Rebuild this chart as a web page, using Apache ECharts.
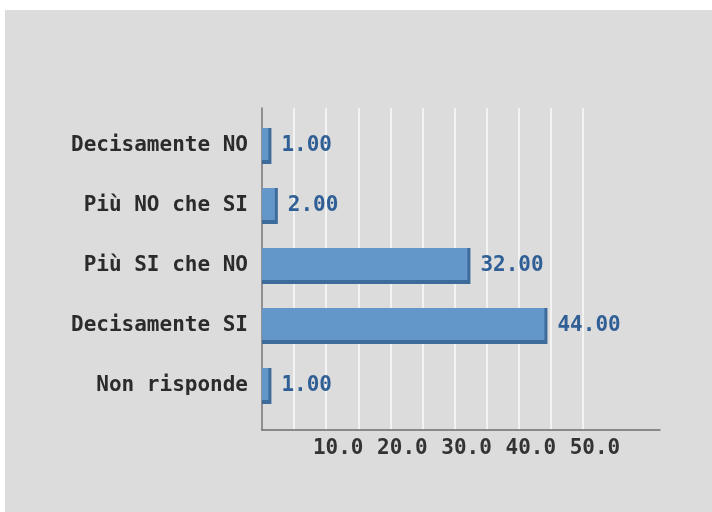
<!DOCTYPE html>
<html>
<head>
<meta charset="utf-8">
<script src="https://cdn.jsdelivr.net/npm/echarts@6/dist/echarts.min.js"></script>
<style>
html,body{margin:0;padding:0;background:#ffffff;}
#main{position:absolute;left:5px;top:10px;width:707px;height:502px;}
</style>
</head>
<body>
<div id="main"></div>
<script>
const categories = ['Decisamente NO', 'Più NO che SI', 'Più SI che NO', 'Decisamente SI', 'Non risponde'];
const values = [1.00, 2.00, 32.00, 44.00, 1.00];
const xTickValues = [10, 20, 30, 40, 50];
const xTickLabels = ['10.0', '20.0', '30.0', '40.0', '50.0'];

const FONT = 'DejaVu Sans Mono';
const chart = echarts.init(document.getElementById('main'), null, {renderer: 'canvas'});

const barFill = new echarts.graphic.LinearGradient(0, 0, 0, 1, [
  {offset: 0, color: '#6598ca'},
  {offset: 0.05, color: '#6497c9'},
  {offset: 0.885, color: '#6497c9'},
  {offset: 0.89, color: '#3d6b9b'},
  {offset: 1, color: '#3d6b9b'}
]);

const option = {
  backgroundColor: '#dcdcdc',
  animation: false,
  grid: [
    {left: 257, top: 98, width: 398, height: 322, show: false},
    {left: 257, top: 98, width: 321, height: 322, show: false},
    {left: 257, top: 106, width: 398, height: 300, show: false}
  ],
  xAxis: [
    {
      gridIndex: 0, type: 'value', min: 0, max: 62, interval: 5,
      axisLine: {show: true, lineStyle: {color: '#6e6e6e', width: 1.5}},
      axisTick: {show: false},
      splitLine: {show: false},
      axisLabel: {
        show: true, margin: 8, padding: [0, 0, 0, 24],
        fontFamily: FONT, fontWeight: 'bold', fontSize: 21, color: '#333333',
        formatter: function (v) {
          const i = xTickValues.indexOf(v);
          return i >= 0 ? xTickLabels[i] : '';
        }
      }
    },
    {
      gridIndex: 1, type: 'value', min: 0, max: 50, interval: 5,
      axisLine: {show: false}, axisTick: {show: false}, axisLabel: {show: false},
      splitLine: {show: true, lineStyle: {color: '#f3f3f3', width: 2}}
    },
    {
      gridIndex: 2, type: 'value', min: 0, max: 62, show: false,
      splitLine: {show: false}
    }
  ],
  yAxis: [
    {
      gridIndex: 0, type: 'value', min: 0, max: 1,
      axisLine: {show: true, lineStyle: {color: '#6e6e6e', width: 1.5}},
      axisTick: {show: false}, axisLabel: {show: false}, splitLine: {show: false}
    },
    {
      gridIndex: 1, type: 'value', min: 0, max: 1, show: false,
      splitLine: {show: false}
    },
    {
      gridIndex: 2, type: 'category', inverse: true, data: categories,
      axisLine: {show: false}, axisTick: {show: false}, splitLine: {show: false},
      axisLabel: {
        margin: 14, padding: [6, 0, 0, 0],
        fontFamily: FONT, fontWeight: 'bold', fontSize: 21, color: '#2b2b2b'
      }
    }
  ],
  series: [
    {
      type: 'bar', xAxisIndex: 2, yAxisIndex: 2, data: values, barWidth: 36,
      itemStyle: {
        color: barFill, shadowColor: '#3d6b9b', shadowOffsetX: 3, shadowOffsetY: 0, shadowBlur: 0
      },
      label: {
        show: true, position: 'right', distance: 13, padding: [6, 0, 0, 0],
        fontFamily: FONT, fontWeight: 'bold', fontSize: 21, color: '#2f5f95',
        formatter: function (p) { return p.value.toFixed(2); }
      }
    }
  ]
};
chart.setOption(option);
</script>
</body>
</html>
